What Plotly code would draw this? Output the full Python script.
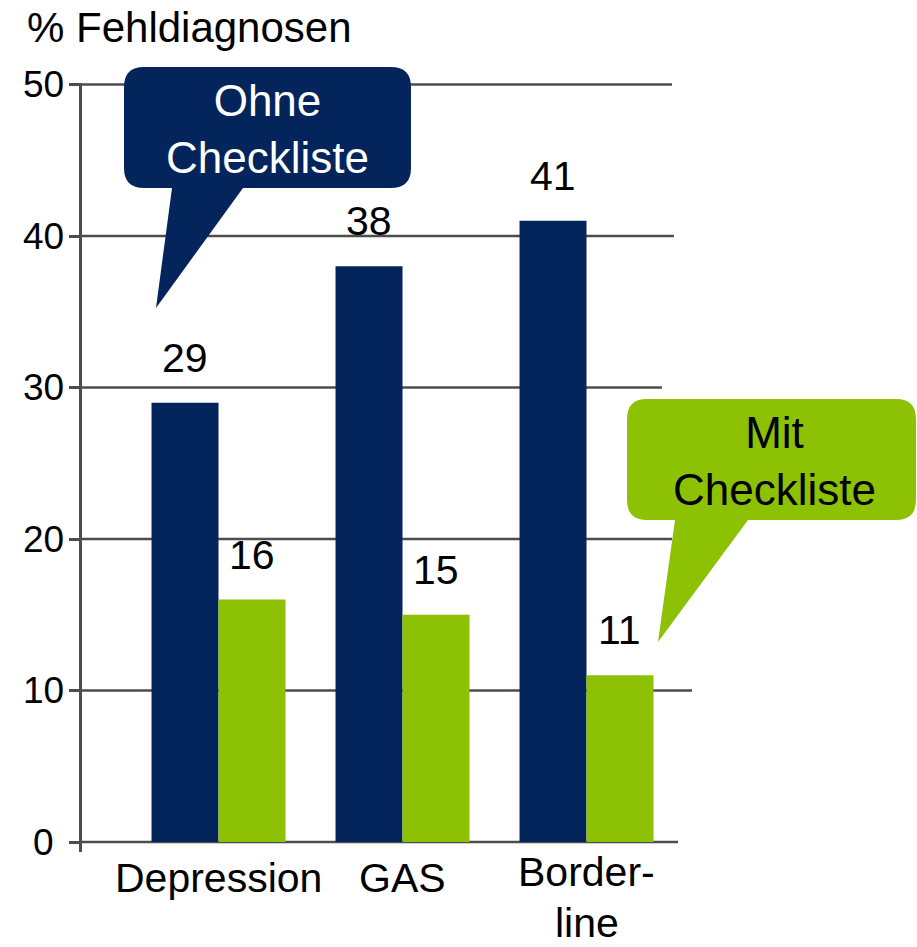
import plotly.graph_objects as go

# --- data -------------------------------------------------------------
categories = ["Depression", "GAS", "Borderline"]
category_lines = [["Depression"], ["GAS"], ["Border-", "line"]]
ohne_checkliste = [29, 38, 41]
mit_checkliste = [16, 15, 11]
y_ticks = [0, 10, 20, 30, 40, 50]

# --- style ------------------------------------------------------------
NAVY = "#03255c"
GREEN = "#8cc104"
GRID = "#4d4d4d"
FONT = "Liberation Sans, Arial, sans-serif"

W, H = 917, 947
PL, PR, PT, PB = 82, 700, 83, 852          # plot area in pixels
BARGAP = 0.272

# right end (px) of each horizontal rule, keyed by tick value
rule_end = {0: 678, 10: 692, 20: 672, 30: 662, 40: 674, 50: 672}
# vertical centres (px) of category labels: single-line, and two-line pair
single_line_y = 878
double_line_y = [872, 923]


def px(x):
    return (x - PL) / (PR - PL)


def py(y):
    return (PB - y) / (PB - PT)


def callout(x0, y0, x1, y1, r, tail_l, tail_r, tip):
    """Rounded box with a pointed tail hanging from its bottom edge (pixel input)."""
    pts = [
        f"M {px(x0 + r)} {py(y0)}",
        f"L {px(x1 - r)} {py(y0)}",
        f"Q {px(x1)} {py(y0)} {px(x1)} {py(y0 + r)}",
        f"L {px(x1)} {py(y1 - r)}",
        f"Q {px(x1)} {py(y1)} {px(x1 - r)} {py(y1)}",
        f"L {px(tail_r)} {py(y1)}",
        f"L {px(tip[0])} {py(tip[1])}",
        f"L {px(tail_l)} {py(y1)}",
        f"L {px(x0 + r)} {py(y1)}",
        f"Q {px(x0)} {py(y1)} {px(x0)} {py(y1 - r)}",
        f"L {px(x0)} {py(y0 + r)}",
        f"Q {px(x0)} {py(y0)} {px(x0 + r)} {py(y0)}",
        "Z",
    ]
    return " ".join(pts)


fig = go.Figure()
fig.add_trace(go.Bar(x=categories, y=ohne_checkliste, name="Ohne Checkliste",
                     marker=dict(color=NAVY, line=dict(width=0))))
fig.add_trace(go.Bar(x=categories, y=mit_checkliste, name="Mit Checkliste",
                     marker=dict(color=GREEN, line=dict(width=0))))

shapes = []
# horizontal rules behind the bars
for v in y_ticks:
    shapes.append(dict(type="line", xref="paper", yref="y",
                       x0=0, x1=px(rule_end[v]), y0=v, y1=v,
                       line=dict(color=GRID, width=2.5), layer="below"))

# speech-bubble labels
shapes.append(dict(type="path", xref="paper", yref="paper",
                   path=callout(124, 67, 411, 188, 20, 172, 243, (156, 308)),
                   fillcolor=NAVY, line=dict(width=0), layer="above"))
shapes.append(dict(type="path", xref="paper", yref="paper",
                   path=callout(627, 399, 916, 520, 20, 675, 748, (658, 642)),
                   fillcolor=GREEN, line=dict(width=0), layer="above"))

annotations = []
# value labels above each bar
half = (1 - BARGAP) / 4
for i, (a, b) in enumerate(zip(ohne_checkliste, mit_checkliste)):
    for off, val in ((-half, a), (half, b)):
        annotations.append(dict(x=i + off, y=val, xref="x", yref="y",
                                text=str(val), showarrow=False,
                                yanchor="bottom", yshift=20,
                                font=dict(family=FONT, size=41, color="black")))

# category labels under each group (hyphenated ones over two lines)
for i, lines in enumerate(category_lines):
    ys = [single_line_y] if len(lines) == 1 else double_line_y
    for line, yc in zip(lines, ys):
        annotations.append(dict(x=i, y=py(yc), xref="x", yref="paper",
                                text=line, showarrow=False,
                                xanchor="center", yanchor="middle",
                                font=dict(family=FONT, size=41, color="black")))

# y tick labels, centred in the left margin
for v in y_ticks:
    annotations.append(dict(x=px(43.5), y=v, xref="paper", yref="y",
                            text=str(v), showarrow=False, xanchor="center",
                            yanchor="middle",
                            font=dict(family=FONT, size=37, color="black")))

# axis caption
annotations.append(dict(x=px(25), y=py(28), xref="paper", yref="paper",
                        text="% Fehldiagnosen", showarrow=False,
                        xanchor="left", yanchor="middle",
                        font=dict(family=FONT, size=42, color="black")))

# bubble texts
annotations.append(dict(x=px(267.5), y=py(129), xref="paper", yref="paper",
                        text="Ohne<br>Checkliste", showarrow=False,
                        xanchor="center", yanchor="middle",
                        font=dict(family=FONT, size=44, color="white")))
annotations.append(dict(x=px(774), y=py(461), xref="paper", yref="paper",
                        text="Mit<br>Checkliste", showarrow=False,
                        xanchor="center", yanchor="middle",
                        font=dict(family=FONT, size=44, color="black")))

fig.update_layout(
    width=W, height=H, autosize=False,
    margin=dict(l=PL, r=W - PR, t=PT, b=H - PB, pad=0),
    paper_bgcolor="white", plot_bgcolor="white",
    barmode="group", bargap=BARGAP, bargroupgap=0,
    showlegend=False,
    font=dict(family=FONT, color="black"),
    shapes=shapes, annotations=annotations,
    xaxis=dict(range=[-(218.5 - PL) / 184, (PR - 218.5) / 184],
               automargin=False, showticklabels=False,
               showgrid=False, zeroline=False, showline=False, ticks=""),
    yaxis=dict(range=[-10 / 15.15, 50.1], tickvals=y_ticks, automargin=False,
               showticklabels=False, showgrid=False, zeroline=False,
               showline=True, linecolor=GRID, linewidth=2.5,
               ticks="outside", ticklen=10, tickwidth=2.5, tickcolor=GRID),
)

fig.write_html("out.html")
